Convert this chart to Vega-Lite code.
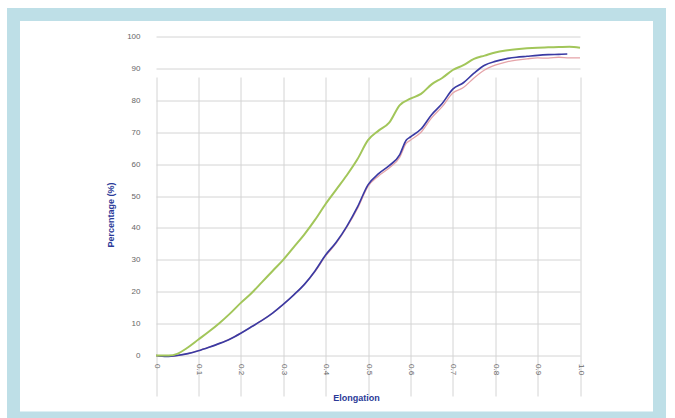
{
  "$schema": "https://vega.github.io/schema/vega-lite/v6.json",
  "width": 646,
  "height": 403.5,
  "autosize": "none",
  "padding": {"left": 13.5, "top": 14.5, "right": 15.5, "bottom": 0},
  "background": "white",
  "config": {
    "view": {"fill": "white", "stroke": "#BEDFE7", "strokeWidth": 13},
    "font": "Liberation Sans"
  },
  "data": {
    "values": [
      {"s": "pink", "x": 0, "y": 0}, {"s": "pink", "x": 0.025, "y": -0.3}, {"s": "pink", "x": 0.05, "y": 0}, {"s": "pink", "x": 0.075, "y": 0.6}, {"s": "pink", "x": 0.1, "y": 1.5}, {"s": "pink", "x": 0.125, "y": 2.6}, {"s": "pink", "x": 0.15, "y": 3.8}, {"s": "pink", "x": 0.175, "y": 5.2}, {"s": "pink", "x": 0.2, "y": 7}, {"s": "pink", "x": 0.225, "y": 9}, {"s": "pink", "x": 0.25, "y": 11}, {"s": "pink", "x": 0.275, "y": 13.3}, {"s": "pink", "x": 0.3, "y": 16}, {"s": "pink", "x": 0.325, "y": 19}, {"s": "pink", "x": 0.35, "y": 22.3}, {"s": "pink", "x": 0.375, "y": 26.3}, {"s": "pink", "x": 0.4, "y": 31.2}, {"s": "pink", "x": 0.425, "y": 35.2}, {"s": "pink", "x": 0.45, "y": 40.2}, {"s": "pink", "x": 0.475, "y": 46}, {"s": "pink", "x": 0.5, "y": 53}, {"s": "pink", "x": 0.525, "y": 56.3}, {"s": "pink", "x": 0.55, "y": 58.8}, {"s": "pink", "x": 0.575, "y": 62.2}, {"s": "pink", "x": 0.59, "y": 66.5}, {"s": "pink", "x": 0.6, "y": 67.5}, {"s": "pink", "x": 0.625, "y": 70}, {"s": "pink", "x": 0.65, "y": 74.5}, {"s": "pink", "x": 0.675, "y": 78}, {"s": "pink", "x": 0.7, "y": 82.3}, {"s": "pink", "x": 0.725, "y": 84}, {"s": "pink", "x": 0.75, "y": 87}, {"s": "pink", "x": 0.775, "y": 89.5}, {"s": "pink", "x": 0.8, "y": 91}, {"s": "pink", "x": 0.825, "y": 92}, {"s": "pink", "x": 0.85, "y": 92.6}, {"s": "pink", "x": 0.875, "y": 93}, {"s": "pink", "x": 0.9, "y": 93.3}, {"s": "pink", "x": 0.925, "y": 93.2}, {"s": "pink", "x": 0.95, "y": 93.5}, {"s": "pink", "x": 0.975, "y": 93.3}, {"s": "pink", "x": 1.0, "y": 93.3},
      {"s": "blue", "x": 0, "y": 0}, {"s": "blue", "x": 0.025, "y": -0.3}, {"s": "blue", "x": 0.05, "y": 0}, {"s": "blue", "x": 0.075, "y": 0.6}, {"s": "blue", "x": 0.1, "y": 1.5}, {"s": "blue", "x": 0.125, "y": 2.6}, {"s": "blue", "x": 0.15, "y": 3.8}, {"s": "blue", "x": 0.175, "y": 5.2}, {"s": "blue", "x": 0.2, "y": 7}, {"s": "blue", "x": 0.225, "y": 9}, {"s": "blue", "x": 0.25, "y": 11}, {"s": "blue", "x": 0.275, "y": 13.3}, {"s": "blue", "x": 0.3, "y": 16}, {"s": "blue", "x": 0.325, "y": 19}, {"s": "blue", "x": 0.35, "y": 22.3}, {"s": "blue", "x": 0.375, "y": 26.5}, {"s": "blue", "x": 0.4, "y": 31.5}, {"s": "blue", "x": 0.425, "y": 35.5}, {"s": "blue", "x": 0.45, "y": 40.5}, {"s": "blue", "x": 0.475, "y": 46.5}, {"s": "blue", "x": 0.5, "y": 53.5}, {"s": "blue", "x": 0.525, "y": 57}, {"s": "blue", "x": 0.55, "y": 59.5}, {"s": "blue", "x": 0.575, "y": 63}, {"s": "blue", "x": 0.59, "y": 67.5}, {"s": "blue", "x": 0.6, "y": 68.5}, {"s": "blue", "x": 0.625, "y": 71}, {"s": "blue", "x": 0.65, "y": 75.5}, {"s": "blue", "x": 0.675, "y": 79}, {"s": "blue", "x": 0.7, "y": 83.5}, {"s": "blue", "x": 0.725, "y": 85.5}, {"s": "blue", "x": 0.75, "y": 88.5}, {"s": "blue", "x": 0.775, "y": 91}, {"s": "blue", "x": 0.8, "y": 92.2}, {"s": "blue", "x": 0.825, "y": 93}, {"s": "blue", "x": 0.85, "y": 93.5}, {"s": "blue", "x": 0.875, "y": 93.8}, {"s": "blue", "x": 0.9, "y": 94.1}, {"s": "blue", "x": 0.925, "y": 94.3}, {"s": "blue", "x": 0.95, "y": 94.4}, {"s": "blue", "x": 0.97, "y": 94.5},
      {"s": "green", "x": 0, "y": 0}, {"s": "green", "x": 0.03, "y": 0}, {"s": "green", "x": 0.05, "y": 0.5}, {"s": "green", "x": 0.075, "y": 2.5}, {"s": "green", "x": 0.1, "y": 5}, {"s": "green", "x": 0.125, "y": 7.5}, {"s": "green", "x": 0.15, "y": 10.2}, {"s": "green", "x": 0.175, "y": 13.2}, {"s": "green", "x": 0.2, "y": 16.5}, {"s": "green", "x": 0.225, "y": 19.5}, {"s": "green", "x": 0.25, "y": 23}, {"s": "green", "x": 0.275, "y": 26.5}, {"s": "green", "x": 0.3, "y": 30}, {"s": "green", "x": 0.325, "y": 34}, {"s": "green", "x": 0.35, "y": 38}, {"s": "green", "x": 0.375, "y": 42.5}, {"s": "green", "x": 0.4, "y": 47.5}, {"s": "green", "x": 0.425, "y": 52}, {"s": "green", "x": 0.45, "y": 56.5}, {"s": "green", "x": 0.475, "y": 61.5}, {"s": "green", "x": 0.5, "y": 67.5}, {"s": "green", "x": 0.525, "y": 70.5}, {"s": "green", "x": 0.55, "y": 73}, {"s": "green", "x": 0.575, "y": 78.5}, {"s": "green", "x": 0.6, "y": 80.5}, {"s": "green", "x": 0.625, "y": 82}, {"s": "green", "x": 0.65, "y": 85}, {"s": "green", "x": 0.675, "y": 87}, {"s": "green", "x": 0.7, "y": 89.5}, {"s": "green", "x": 0.725, "y": 91}, {"s": "green", "x": 0.75, "y": 93}, {"s": "green", "x": 0.775, "y": 94}, {"s": "green", "x": 0.8, "y": 95}, {"s": "green", "x": 0.825, "y": 95.6}, {"s": "green", "x": 0.85, "y": 96}, {"s": "green", "x": 0.875, "y": 96.3}, {"s": "green", "x": 0.9, "y": 96.5}, {"s": "green", "x": 0.925, "y": 96.6}, {"s": "green", "x": 0.95, "y": 96.7}, {"s": "green", "x": 0.975, "y": 96.8}, {"s": "green", "x": 1.0, "y": 96.5}
    ]
  },
  "mark": {"type": "line", "interpolate": "monotone"},
  "encoding": {
    "x": {
      "field": "x", "type": "quantitative",
      "scale": {"domain": [0, 1], "range": [142.5, 566.5], "nice": false, "zero": false},
      "axis": {
        "title": "Elongation", "values": [0, 0.1, 0.2, 0.3, 0.4, 0.5, 0.6, 0.7, 0.8, 0.9, 1.0],
        "labelExpr": "datum.value == 0 ? '0' : format(datum.value, '.1f')",
        "offset": -62.5, "domain": false, "ticks": false,
        "labelAngle": 90, "labelPadding": 8, "labelFontSize": 8, "labelColor": "#666666",
        "gridColor": "#D4D4D4", "gridWidth": 1,
        "titleFontSize": 9, "titleFontWeight": "bold", "titleColor": "#2A3A98",
        "titleX": 342.5, "titleY": 41.5, "titleBaseline": "middle", "titleAlign": "center"
      }
    },
    "y": {
      "field": "y", "type": "quantitative",
      "scale": {"domain": [0, 100], "range": [341, 22], "nice": false, "zero": false},
      "axis": {
        "title": "Percentage (%)", "values": [0, 10, 20, 30, 40, 50, 60, 70, 80, 90, 100],
        "offset": -142.5, "domain": false, "ticks": false,
        "labelPadding": 16, "labelFontSize": 8, "labelColor": "#666666",
        "gridColor": "#D4D4D4", "gridWidth": 1,
        "titleFontSize": 9, "titleFontWeight": "bold", "titleColor": "#2A3A98",
        "titleX": -46, "titleY": 200, "titleBaseline": "middle", "titleAlign": "center", "titleAngle": -90
      }
    },
    "color": {
      "field": "s", "type": "nominal", "legend": null,
      "scale": {"domain": ["pink", "blue", "green"], "range": ["#E5A3A8", "#3A3AA3", "#A2C65A"]}
    },
    "strokeWidth": {
      "field": "s", "type": "nominal", "legend": null,
      "scale": {"domain": ["pink", "blue", "green"], "range": [1.3, 2, 1.8]}
    }
  }
}
